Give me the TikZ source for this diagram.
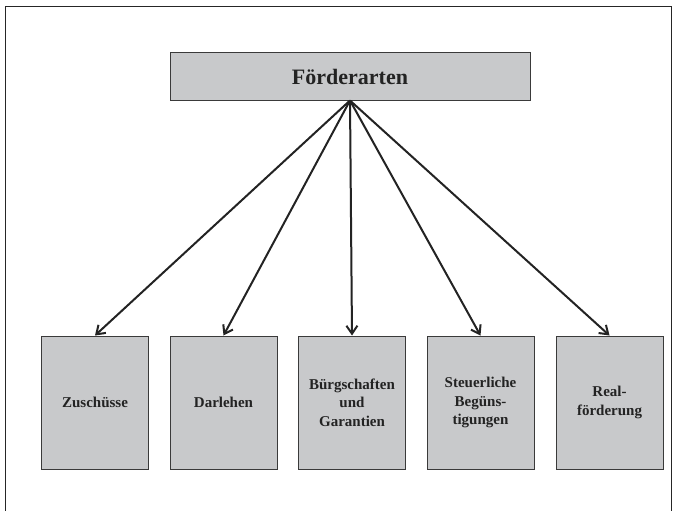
\documentclass[tikz,border=0pt]{standalone}
\usepackage{fontspec}
\setmainfont{Liberation Serif}
\usetikzlibrary{arrows.meta}
\definecolor{boxgray}{HTML}{C8C9CB}
\definecolor{boxline}{HTML}{3A3A3A}
\definecolor{ink}{HTML}{232323}
\begin{document}
\begin{tikzpicture}[x=1pt,y=-1pt,
  topbox/.style={draw=boxline,line width=1pt,fill=boxgray,minimum width=360pt,minimum height=47pt,inner sep=0pt,text=ink,font=\fontsize{22}{26}\selectfont\bfseries},
  leafbox/.style={draw=boxline,line width=1pt,fill=boxgray,minimum width=107pt,minimum height=133pt,inner sep=0pt,align=center,text=ink,font=\fontsize{15}{18.5}\selectfont\bfseries},
  link/.style={draw=ink,line width=2pt,-{Straight Barb[length=8pt,width=11pt,line width=2pt]}}]
\useasboundingbox (0,0) rectangle (677,511);
\draw[line width=1pt,black!85] (5.5,511) -- (5.5,6.5) -- (671.5,6.5) -- (671.5,511);
\node[topbox] (top) at (350,76.5) {Förderarten};
\node[leafbox] (a) at (95,402.5) {Zuschüsse};
\node[leafbox] (b) at (223.5,402.5) {Darlehen};
\node[leafbox] (c) at (352,402.5) {Bürgschaften\\und\\Garantien};
\node[leafbox] (d) at (480.5,402.5) {Steuerliche\\Begüns-\\tigungen};
\node[leafbox] (e) at (609.5,402.5) {Real-\\förderung};
\foreach \n in {a,b,c,d,e}
  \draw[link] (top.south) -- (\n.north);
\end{tikzpicture}
\end{document}
